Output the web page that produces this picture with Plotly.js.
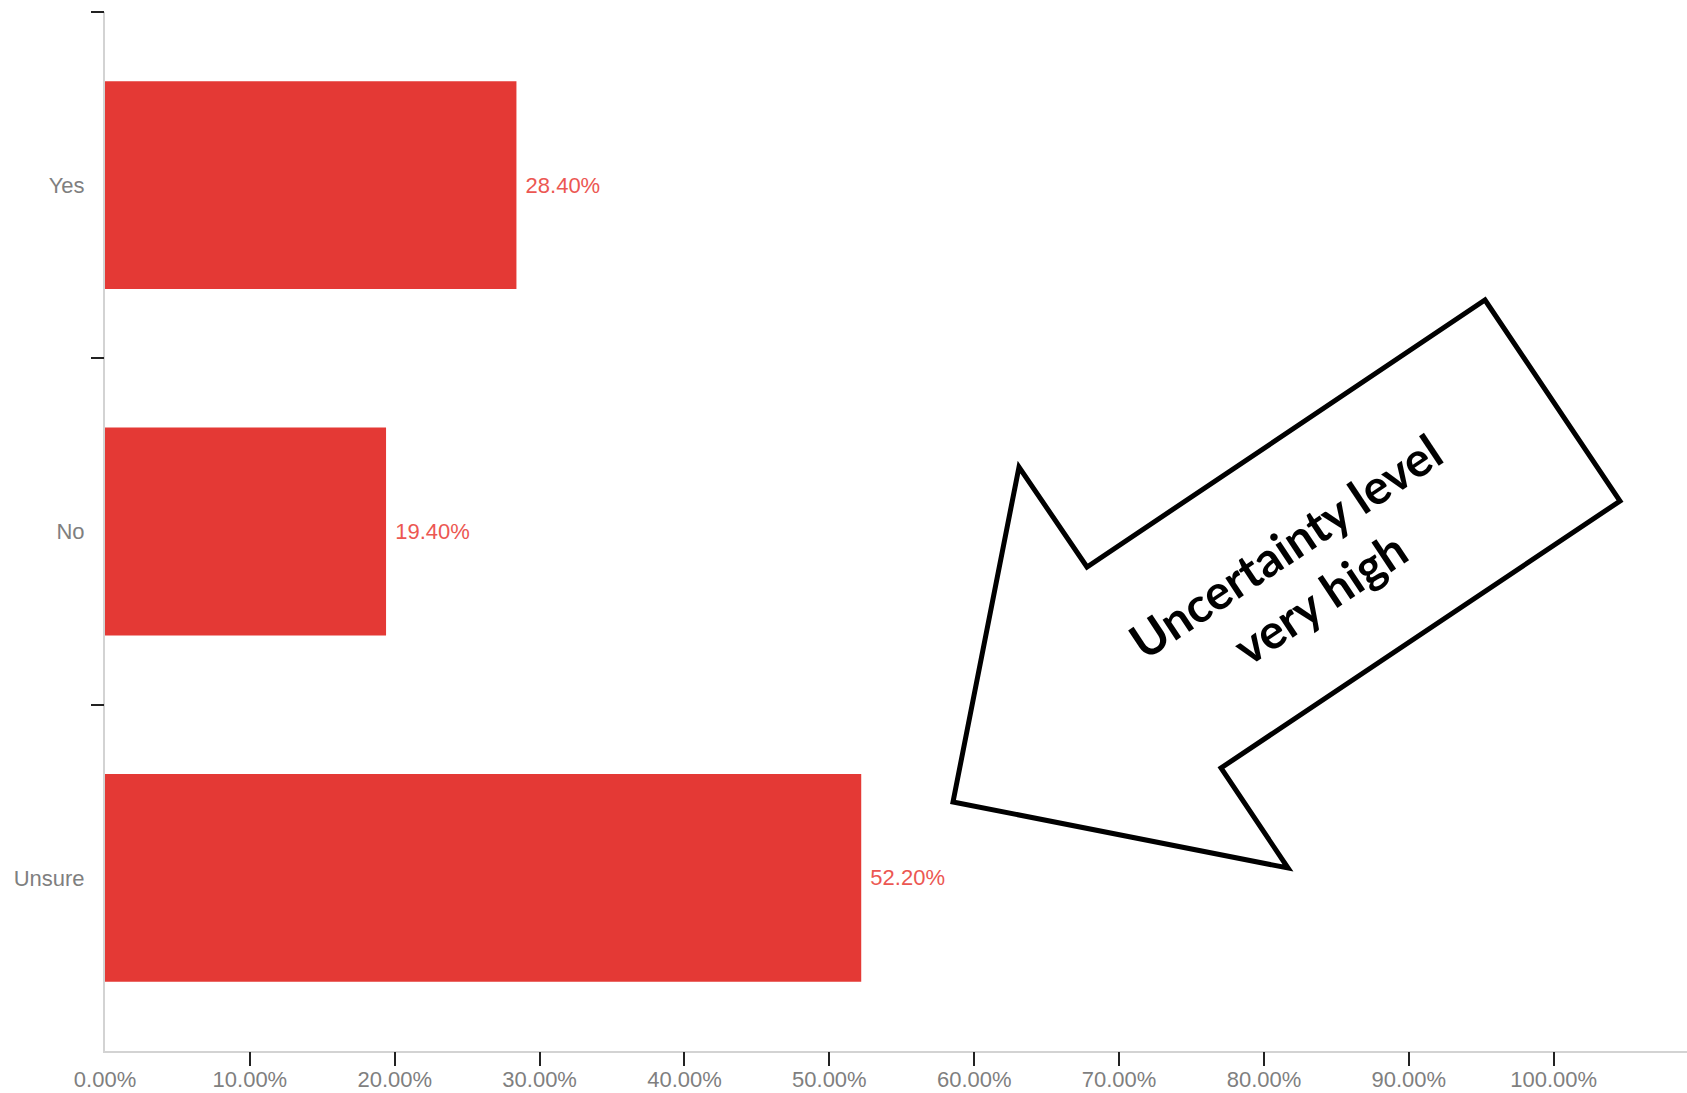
<!DOCTYPE html>
<html>
<head>
<meta charset="utf-8">
<script src="https://cdn.plot.ly/plotly-3.0.1.min.js"></script>
<style>
  html, body { margin: 0; padding: 0; background: #ffffff; }
  #chart { width: 1687px; height: 1093px; }
</style>
</head>
<body>
<div id="chart"></div>
<script>
// ---- data ----
const categories = ['Unsure', 'No', 'Yes'];
const shares = [52.2, 19.4, 28.4];
const xTickVals = [0, 10, 20, 30, 40, 50, 60, 70, 80, 90, 100];
const xTickText = ['0.00%', '10.00%', '20.00%', '30.00%', '40.00%', '50.00%', '60.00%', '70.00%', '80.00%', '90.00%', '100.00%'];
const calloutText = 'Uncertainty level<br>very high';

// ---- layout geometry ----
const W = 1687, H = 1093;
const M = { l: 105, r: 0, t: 12, b: 42 };
const plotW = W - M.l - M.r, plotH = H - M.t - M.b;
const toPX = px => (px - M.l) / plotW;
const toPY = py => (H - M.b - py) / plotH;

// callout arrow outline (pixel positions of the drawn annotation)
const arrowPts = [[1485, 300], [1620, 501], [1221, 768], [1288, 868], [953, 802], [1019, 467], [1087, 567]];
const arrowPath = arrowPts.map((p, i) => (i ? 'L' : 'M') + toPX(p[0]).toFixed(5) + ',' + toPY(p[1]).toFixed(5)).join(' ') + ' Z';

const xRange = [0, 109.2];
const yRange = [-0.5, 2.5];
const labelFont = { family: 'Liberation Sans, Arial, sans-serif', size: 22, color: '#7f7f7f' };

const traces = [
  {
    type: 'bar',
    orientation: 'h',
    x: shares,
    y: categories,
    marker: { color: '#e43935' },
    texttemplate: '\u00a0%{x:.2f}%',
    textposition: 'outside',
    textfont: { family: 'Liberation Sans, Arial, sans-serif', size: 22, color: '#ec5752' },
    cliponaxis: false,
    hoverinfo: 'skip',
    showlegend: false
  },
  {
    type: 'scatter',
    mode: 'markers',
    x: [],
    y: [],
    xaxis: 'x2',
    yaxis: 'y2',
    showlegend: false,
    hoverinfo: 'skip'
  }
];

const layout = {
  width: W,
  height: H,
  margin: M,
  paper_bgcolor: '#ffffff',
  plot_bgcolor: '#ffffff',
  bargap: 0.4,
  showlegend: false,
  xaxis: {
    range: xRange,
    tickvals: xTickVals,
    ticktext: xTickText,
    ticks: 'outside',
    ticklen: 8,
    tickcolor: 'rgba(0,0,0,0)',
    tickfont: labelFont,
    showgrid: false,
    zeroline: false,
    showline: true,
    linecolor: '#d3d3d3',
    linewidth: 2,
    fixedrange: true
  },
  yaxis: {
    type: 'category',
    categoryorder: 'array',
    categoryarray: categories,
    range: yRange,
    ticks: 'outside',
    ticklen: 13,
    tickcolor: 'rgba(0,0,0,0)',
    ticklabelstandoff: 1,
    tickfont: labelFont,
    showgrid: false,
    zeroline: false,
    showline: true,
    linecolor: '#d3d3d3',
    linewidth: 2,
    fixedrange: true
  },
  xaxis2: {
    overlaying: 'x',
    anchor: 'y2',
    side: 'bottom',
    range: xRange,
    tickvals: xTickVals.slice(1),
    ticks: 'outside',
    ticklen: 14,
    tickwidth: 2,
    tickcolor: '#222222',
    showticklabels: false,
    showgrid: false,
    zeroline: false,
    showline: false,
    fixedrange: true
  },
  yaxis2: {
    overlaying: 'y',
    anchor: 'x2',
    side: 'left',
    range: yRange,
    tickvals: [0.5, 1.5, 2.5],
    ticks: 'outside',
    ticklen: 13,
    tickwidth: 2,
    tickcolor: '#222222',
    showticklabels: false,
    showgrid: false,
    zeroline: false,
    showline: false,
    fixedrange: true
  },
  shapes: [
    {
      type: 'path',
      xref: 'paper',
      yref: 'paper',
      path: arrowPath,
      fillcolor: '#ffffff',
      line: { color: '#000000', width: 5 },
      layer: 'above'
    }
  ],
  annotations: [
    {
      xref: 'paper',
      yref: 'paper',
      x: toPX(1302),
      y: toPY(571),
      xanchor: 'center',
      yanchor: 'middle',
      text: '<b>' + calloutText + '</b>',
      showarrow: false,
      textangle: -33.6,
      align: 'center',
      font: { family: 'Lato, Open Sans, sans-serif', size: 48, color: '#000000' }
    }
  ]
};

Plotly.newPlot('chart', traces, layout, { displayModeBar: false, staticPlot: true });
</script>
</body>
</html>
